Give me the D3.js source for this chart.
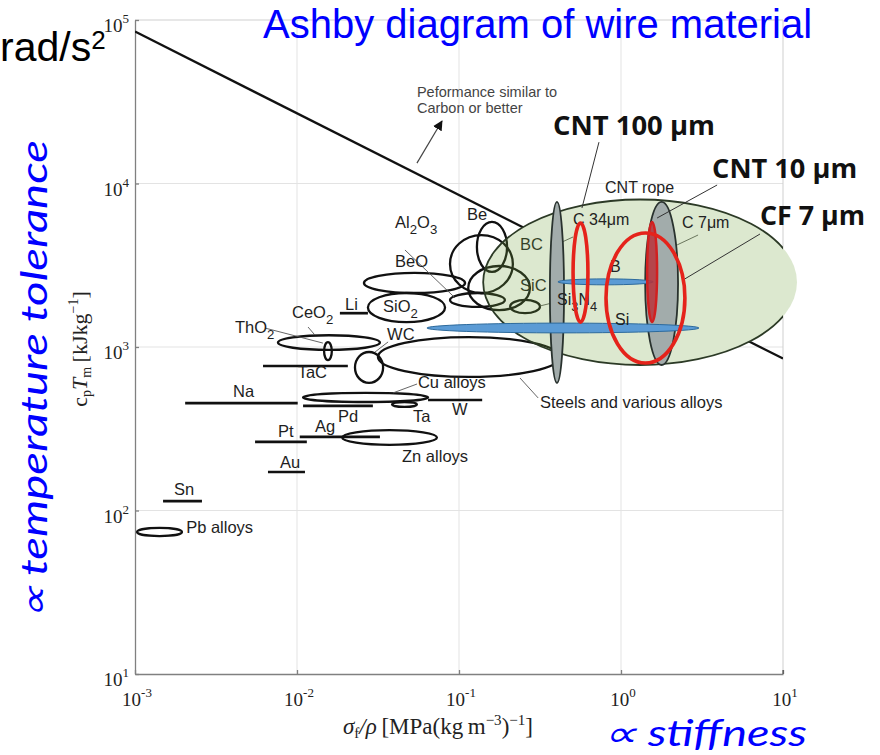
<!DOCTYPE html>
<html><head><meta charset="utf-8">
<script src="https://cdn.jsdelivr.net/npm/d3@7"></script>
<style>body{margin:0;background:#fff;} svg{display:block;}</style>
</head><body><svg id="c" width="880" height="755"></svg>
<script>
// ---------- data ----------
const xTicks = [1e-3, 1e-2, 1e-1, 1e0, 1e1];
const yTicks = [1e1, 1e2, 1e3, 1e4, 1e5];
// bulk materials drawn as outline ellipses: [name, xMin, xMax, yMin, yMax]
const bulkEllipses = [
  ["Be", 0.129, 0.198, 2880, 5820],
  ["BC", 0.088, 0.215, 2140, 4840],
  ["SiC", 0.114, 0.274, 1680, 3130],
  ["Al2O3", 0.088, 0.192, 1760, 2140],
  ["Si3N4", 0.207, 0.316, 1610, 1940],
  ["BeO", 0.0259, 0.109, 2140, 2840],
  ["SiO2", 0.0274, 0.082, 1420, 2140],
  ["ThO2", 0.00763, 0.0325, 960, 1180],
  ["CeO2", 0.0147, 0.0164, 832, 1070],
  ["WC", 0.0228, 0.034, 603, 932],
  ["Steels", 0.0316, 0.42, 656, 1150],
  ["Cu alloys", 0.0109, 0.0644, 461, 524],
  ["Ta", 0.0386, 0.055, 430, 461],
  ["Zn alloys", 0.019, 0.0731, 252, 310],
  ["Pb alloys", 0.00103, 0.00195, 69.8, 78.2]
];
// bulk materials drawn as bars: [name, xMin, xMax, y]
const bulkBars = [
  ["Li", 0.0184, 0.0274, 1610],
  ["TaC", 0.00617, 0.0206, 765],
  ["Na", 0.00204, 0.0101, 454],
  ["W", 0.0644, 0.139, 474],
  ["Pd", 0.0109, 0.0294, 436],
  ["Ag", 0.0104, 0.0325, 282],
  ["Pt", 0.00551, 0.0115, 263],
  ["Au", 0.00662, 0.0112, 172],
  ["Sn", 0.00149, 0.00259, 114]
];
// fibres: [name, xMin, xMax, yMin, yMax]
const cntRope = ["CNT rope", 0.141, 12.2, 776, 7980];
const greyFibres = [["CNT 100 µm", 0.364, 0.445, 603, 7710], ["CNT 10 µm", 1.41, 2.25, 776, 7710]];
const blueFibres = [["B", 0.408, 1.58, 2400, 2610], ["Si", 0.0634, 3.03, 1220, 1400]];
const redFibres = [["C 34 µm", 0.506, 0.625, 1420, 5730], ["CF 7 µm", 0.808, 2.48, 798, 4980]];
const redCore = [["CNT 10 µm core", 1.45, 1.67, 1420, 5820]];
const performanceLine = [[1e-3, 85000], [10, 850]];
// labels: [text, x, y, chemical formula?]
const bulkLabels = [
  ["Be", 0.112, 5980, 0], ["BC", 0.238, 3920, 0], ["SiC", 0.238, 2200, 0],
  ["Al2O3", 0.0403, 5350, 1], ["BeO", 0.0403, 3080, 0], ["SiO2", 0.034, 1640, 1],
  ["Li", 0.0198, 1680, 0], ["CeO2", 0.00931, 1500, 1], ["ThO2", 0.00414, 1220, 1],
  ["WC", 0.036, 1100, 0], ["TaC", 0.0101, 646, 0], ["Na", 0.00403, 494, 0],
  ["Cu alloys", 0.0558, 561, 0], ["Ta", 0.052, 348, 0], ["W", 0.0906, 384, 0],
  ["Pd", 0.0179, 348, 0], ["Ag", 0.0129, 302, 0], ["Pt", 0.00763, 282, 0],
  ["Au", 0.00785, 182, 0], ["Zn alloys", 0.0445, 198, 0], ["Sn", 0.00174, 124, 0],
  ["Pb alloys", 0.00207, 72.8, 0], ["Steels and various alloys", 0.316, 424, 0]
];
const fibreLabels = [
  ["Si3N4", 0.403, 1810, 1], ["C 34μm", 0.506, 5570, 0], ["CNT rope", 0.797, 8750, 0],
  ["C 7μm", 2.38, 5350, 0], ["B", 0.855, 2880, 0], ["Si", 0.918, 1365, 0]
];
const leaders = [
  [0.0464, 3920, 0.0944, 2000], [0.00634, 1306, 0.01445, 1057], [0.0117, 1325, 0.0129, 1183],
  [0.0365, 1074, 0.0303, 931], [0.0551, 594, 0.0392, 524], [0.397, 1884, 0.316, 1782],
  [0.308, 488, 0.238, 646], [0.506, 4710, 0.408, 4270], [2.99, 4840, 2.22, 4210]
];
const highlightLeaders = [[0.731, 17900, 0.574, 7080], [3.92, 9790, 1.67, 6150], [7.21, 4910, 2.48, 2610]];
const highlightLabels = [["CNT 100 µm", 0.380, 19800, 162], ["CNT 10 µm", 3.65, 10800, 145], ["CF 7 µm", 7.21, 5570, 105]];
const performanceNote = [["Peformance similar to", 0.055, 33800], ["Carbon or better", 0.055, 27000]];
const performanceArrow = [0.055, 13330, 0.0785, 24100];

// ---------- chart ----------
const svg = d3.select("#c");
const L = 135, R = 783, T = 20, B = 674;
const x = d3.scaleLog().domain([1e-3, 1e1]).range([L, R]);
const y = d3.scaleLog().domain([1e1, 1e5]).range([B, T]);
const serif = "'Liberation Serif','DejaVu Serif',serif";
const sans = "'Liberation Sans',Arial,sans-serif";

svg.append("defs").append("clipPath").attr("id", "plotclip")
  .append("rect").attr("x", L).attr("y", T).attr("width", R - L).attr("height", B - T);
svg.select("defs").append("marker").attr("id", "ah").attr("viewBox", "0 0 10 10")
  .attr("refX", 9).attr("refY", 5).attr("markerWidth", 10).attr("markerHeight", 10)
  .attr("orient", "auto").attr("markerUnits", "userSpaceOnUse")
  .append("path").attr("d", "M0,0 L10,5 L0,10 z").attr("fill", "#111");

function ell(sel, d) {
  return sel.attr("cx", (x(d[1]) + x(d[2])) / 2).attr("rx", (x(d[2]) - x(d[1])) / 2)
    .attr("cy", (y(d[3]) + y(d[4])) / 2).attr("ry", (y(d[3]) - y(d[4])) / 2);
}
function label(g, d, size, color) {
  const t = g.append("text").attr("x", x(d[1])).attr("y", y(d[2]))
    .attr("font-family", sans).attr("font-size", size).attr("fill", color);
  if (d[3]) {
    const parts = d[0].match(/[A-Za-z]+|\d+/g);
    let down = false;
    parts.forEach(p => {
      const isNum = /\d/.test(p);
      const ts = t.append("tspan").text(p);
      if (isNum && !down) { ts.attr("dy", 6).attr("font-size", size * 0.8); down = true; }
      else if (isNum) { ts.attr("font-size", size * 0.8); }
      else if (down) { ts.attr("dy", -6); down = false; }
    });
  } else t.text(d[0]);
  return t;
}

// grid
const grid = svg.append("g");
grid.selectAll("line.gx").data(xTicks.slice(1, -1)).join("line")
  .attr("x1", d => x(d)).attr("x2", d => x(d)).attr("y1", T).attr("y2", B)
  .attr("stroke", "#e3e3e3").attr("stroke-width", 1);
grid.selectAll("line.gy").data(yTicks.slice(1, -1)).join("line")
  .attr("y1", d => y(d)).attr("y2", d => y(d)).attr("x1", L).attr("x2", R)
  .attr("stroke", "#e3e3e3").attr("stroke-width", 1);
// box
svg.append("line").attr("x1", L).attr("x2", R).attr("y1", T).attr("y2", T).attr("stroke", "#cfcfcf");
svg.append("line").attr("x1", R).attr("x2", R).attr("y1", T).attr("y2", B).attr("stroke", "#cfcfcf");
// axes
const xAxis = svg.append("g").attr("transform", `translate(0,${B})`)
  .call(d3.axisBottom(x).tickValues(xTicks).tickSizeInner(-4).tickSizeOuter(0).tickFormat(""));
const yAxis = svg.append("g").attr("transform", `translate(${L},0)`)
  .call(d3.axisLeft(y).tickValues(yTicks).tickSizeInner(-4).tickSizeOuter(0).tickFormat(""));
[xAxis, yAxis].forEach(a => { a.selectAll("path,line").attr("stroke", "#808080").attr("stroke-width", 1.3); });
svg.append("line").attr("x1", R).attr("x2", R).attr("y1", B).attr("y2", B - 4).attr("stroke", "#444");

xTicks.forEach(t => {
  const e = Math.round(Math.log10(t));
  const tx = svg.append("text").attr("x", x(t) + 2).attr("y", 706).attr("text-anchor", "middle")
    .attr("font-family", serif).attr("font-size", 19).attr("fill", "#222");
  tx.append("tspan").text("10");
  tx.append("tspan").attr("dy", -9).attr("font-size", 13).text(e < 0 ? "-" + (-e) : e);
});
yTicks.forEach(t => {
  const e = Math.round(Math.log10(t));
  const tx = svg.append("text").attr("x", 129).attr("y", y(t) + 12).attr("text-anchor", "end")
    .attr("font-family", serif).attr("font-size", 19).attr("fill", "#222");
  tx.append("tspan").text("10");
  tx.append("tspan").attr("dy", -9).attr("font-size", 13).text(e);
});
// axis titles
const xt = svg.append("text").attr("x", 343).attr("y", 734).attr("font-family", serif)
  .attr("font-size", 23).attr("fill", "#222");
xt.append("tspan").attr("font-style", "italic").text("σ");
xt.append("tspan").attr("dy", 4).attr("font-size", 15).text("f");
xt.append("tspan").attr("dy", -4).attr("font-style", "italic").text("/ρ\u2009");
xt.append("tspan").text("[MPa(kg\u2009m");
xt.append("tspan").attr("dy", -9).attr("font-size", 15).text("−3");
xt.append("tspan").attr("dy", 9).text(")");
xt.append("tspan").attr("dy", -9).attr("font-size", 15).text("−1");
xt.append("tspan").attr("dy", 9).text("]");
const yt = svg.append("text").attr("transform", "translate(87,349) rotate(-90)").attr("text-anchor", "middle")
  .attr("font-family", serif).attr("font-size", 22).attr("fill", "#222");
yt.append("tspan").text("c");
yt.append("tspan").attr("dy", 4).attr("font-size", 14).text("p");
yt.append("tspan").attr("dy", -4).attr("font-style", "italic").text("T");
yt.append("tspan").attr("dy", 4).attr("font-size", 14).text("m");
yt.append("tspan").attr("dy", -4).text("\u2009[kJkg");
yt.append("tspan").attr("dy", -9).attr("font-size", 14).text("−1");
yt.append("tspan").attr("dy", 9).text("]");

const plot = svg.append("g");
// performance line + arrow + note
plot.append("path").attr("d", d3.line().x(d => x(d[0])).y(d => y(d[1]))(performanceLine))
  .attr("stroke", "#111").attr("stroke-width", 2.3).attr("fill", "none").attr("clip-path", "url(#plotclip)");
plot.append("line").attr("x1", x(performanceArrow[0])).attr("y1", y(performanceArrow[1]))
  .attr("x2", x(performanceArrow[2])).attr("y2", y(performanceArrow[3]))
  .attr("stroke", "#444").attr("stroke-width", 1.2).attr("marker-end", "url(#ah)");
performanceNote.forEach(d => plot.append("text").attr("x", x(d[1])).attr("y", y(d[2]))
  .attr("font-family", sans).attr("font-size", 14.5).attr("fill", "#444").text(d[0]));

// white base of CNT rope region (hides line)
ell(plot.append("ellipse"), cntRope).attr("fill", "#fff");

// bulk ellipses and bars
plot.selectAll("ellipse.bulk").data(bulkEllipses).join("ellipse").attr("class", "bulk")
  .each(function (d) { ell(d3.select(this), d); })
  .attr("fill", "none").attr("stroke", "#111").attr("stroke-width", 2.3);
plot.selectAll("line.bar").data(bulkBars).join("line").attr("class", "bar")
  .attr("x1", d => x(d[1])).attr("x2", d => x(d[2])).attr("y1", d => y(d[3])).attr("y2", d => y(d[3]))
  .attr("stroke", "#111").attr("stroke-width", 2.7);
plot.selectAll("line.lead").data(leaders).join("line").attr("class", "lead")
  .attr("x1", d => x(d[0])).attr("y1", d => y(d[1])).attr("x2", d => x(d[2])).attr("y2", d => y(d[3]))
  .attr("stroke", "#555").attr("stroke-width", 0.9);
bulkLabels.forEach(d => label(plot, d, 16.5, "#1e1e1e"));

// CNT rope tint overlay + outline
ell(plot.append("ellipse"), cntRope).attr("fill", "#73a33f").attr("fill-opacity", 0.25);
ell(plot.append("ellipse"), cntRope).attr("fill", "none").attr("stroke", "#2c3a26")
  .attr("stroke-width", 1.8).attr("clip-path", "url(#plotclip)");

// grey fibres
plot.selectAll("ellipse.grey").data(greyFibres).join("ellipse").attr("class", "grey")
  .each(function (d) { ell(d3.select(this), d); })
  .attr("fill", "#a2acab").attr("stroke", "#29322e").attr("stroke-width", 1.8);
// blue fibres
plot.selectAll("ellipse.blue").data(blueFibres).join("ellipse").attr("class", "blue")
  .each(function (d) { ell(d3.select(this), d); })
  .attr("fill", "#5b9bd5").attr("stroke", "#2d6a9c").attr("stroke-width", 1);
fibreLabels.forEach(d => label(plot, d, 16, "#222"));
// red fibres
plot.selectAll("ellipse.redcore").data(redCore).join("ellipse").attr("class", "redcore")
  .each(function (d) { ell(d3.select(this), d); })
  .attr("fill", "#b8333a").attr("fill-opacity", 0.85).attr("stroke", "#d22020").attr("stroke-width", 2.5);
plot.selectAll("ellipse.red").data(redFibres).join("ellipse").attr("class", "red")
  .each(function (d) { ell(d3.select(this), d); })
  .attr("fill", "none").attr("stroke", "#e5231b").attr("stroke-width", 3.6);

// highlight annotations
plot.selectAll("line.hl").data(highlightLeaders).join("line").attr("class", "hl")
  .attr("x1", d => x(d[0])).attr("y1", d => y(d[1])).attr("x2", d => x(d[2])).attr("y2", d => y(d[3]))
  .attr("stroke", "#333").attr("stroke-width", 1);
highlightLabels.forEach(d => plot.append("text").attr("x", x(d[1])).attr("y", y(d[2]))
  .attr("font-family", "'Open Sans',Lato,sans-serif").attr("font-weight", "bold").attr("font-size", 27)
  .attr("fill", "#111").attr("textLength", d[3]).attr("lengthAdjust", "spacingAndGlyphs").text(d[0]));

// outer annotations
svg.append("text").attr("x", 263).attr("y", 38).attr("font-family", sans).attr("font-size", 40)
  .attr("fill", "#0000ff").text("Ashby diagram of wire material");
const rs = svg.append("text").attr("x", 0).attr("y", 61).attr("font-family", sans).attr("font-size", 41).attr("fill", "#000");
rs.append("tspan").text("rad/s");
rs.append("tspan").attr("dy", -12).attr("font-size", 26).text("2");
svg.append("text").attr("transform", "translate(47,620) rotate(-90)").attr("font-family", "Lato,'Open Sans',sans-serif")
  .attr("font-style", "italic").attr("font-size", 37).attr("fill", "#0000ff")
  .attr("textLength", 480).attr("lengthAdjust", "spacingAndGlyphs").text("∝ temperature tolerance");
svg.append("text").attr("x", 603).attr("y", 746).attr("font-family", "Lato,'Open Sans',sans-serif")
  .attr("font-style", "italic").attr("font-size", 36).attr("fill", "#0000ff")
  .attr("textLength", 204).attr("lengthAdjust", "spacingAndGlyphs").text("∝ stiffness");
</script></body></html>
